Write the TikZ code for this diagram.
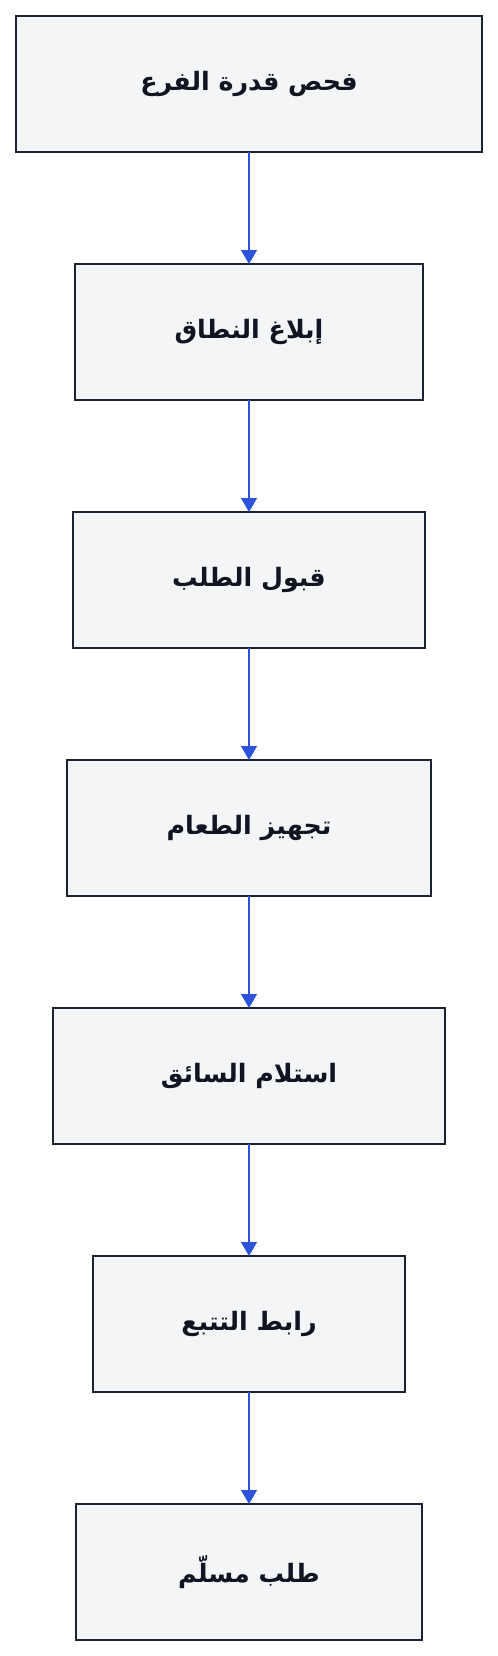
\documentclass[tikz,border=0pt]{standalone}
\usepackage{fontspec}
\newfontfamily\arabicfont[Script=Arabic]{DejaVu Sans}
\TeXXeTstate=1
\usetikzlibrary{arrows.meta,positioning}
\definecolor{boxfill}{HTML}{F4F5F7}
\definecolor{boxline}{HTML}{1B2232}
\definecolor{flowblue}{HTML}{2D52DC}
\definecolor{boxtext}{HTML}{111522}

\begin{document}
\begin{tikzpicture}[>={Triangle[width=12pt,length=10.5pt]}]
        \tikzset{stepbox/.style= {draw=boxline, fill=boxfill, line width=1.5pt, rectangle, outer sep=0pt, align=center,minimum height=102pt,text=boxtext,font=\arabicfont\bfseries\fontsize{19}{23}\selectfont},
        flow/.style={color=flowblue, line width=1pt},
        }
        \useasboundingbox (0,0) rectangle (373.5pt,-1242pt);

        \node [stepbox, minimum width=349.5pt] (check) at (186.75pt,-63pt) {\beginR فحص قدرة الفرع\endR};
        \node [stepbox, minimum width=261pt, below=84pt of check] (notify) {\beginR إبلاغ النطاق\endR};
        \node [stepbox, minimum width=264pt, below=84pt of notify] (accept) {\beginR قبول الطلب\endR};
        \node [stepbox, minimum width=273pt, below=84pt of accept] (prep) {\beginR تجهيز الطعام\endR};
        \node [stepbox, minimum width=294pt, below=84pt of prep] (pickup) {\beginR استلام السائق\endR};
        \node [stepbox, minimum width=234pt, below=84pt of pickup] (track) {\beginR رابط التتبع\endR};
        \node [stepbox, minimum width=259.5pt, below=84pt of track] (done) {\beginR طلب مسلّم\endR};

%%% paths
        \path[flow,->] (check) edge (notify)
                    (notify) edge (accept)
                    (accept) edge (prep)
                    (prep) edge (pickup)
                    (pickup) edge (track)
                    (track) edge (done)
                    ;
    \end{tikzpicture}
\end{document}
